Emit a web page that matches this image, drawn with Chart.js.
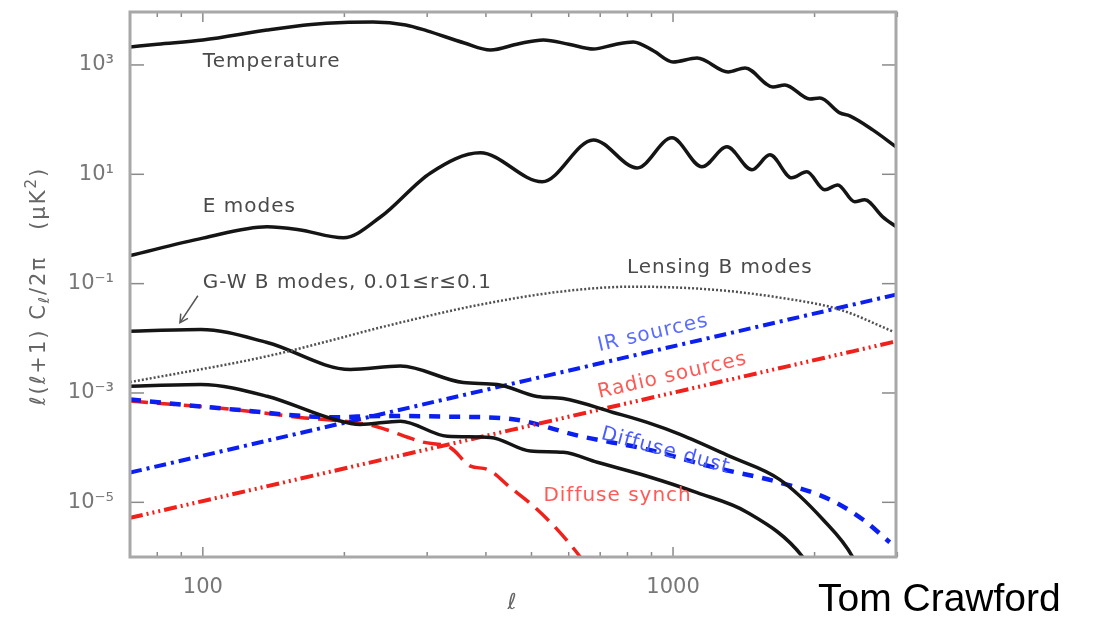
<!DOCTYPE html>
<html>
<head>
<meta charset="utf-8">
<script src="https://cdn.jsdelivr.net/npm/chart.js@4.4.1/dist/chart.umd.min.js"></script>
<style>
  html, body { margin: 0; padding: 0; background: #fff; }
  #wrap { position: relative; width: 1094px; height: 621px; }
  #credit { position: absolute; left: 818px; top: 576px; font: 39px "Liberation Sans", Arial, sans-serif; color: #000; }
</style>
</head>
<body>
<div id="wrap">
  <canvas id="chart" width="1094" height="621"></canvas>
  <div id="credit">Tom Crawford</div>
</div>
<script>
// multipole and D_l values (uK^2)
const ttL = [70, 80, 100, 137, 170, 199, 230, 270, 300, 360, 409, 470, 530, 600, 677, 750, 823, 910, 1000, 1125, 1310, 1423, 1631, 1729, 1954, 2052, 2263, 2376, 2659, 2980];
const ttD = [2130, 2400, 2860, 4350, 5500, 6000, 6100, 5400, 4200, 2520, 1880, 2450, 2860, 2400, 1960, 2350, 2630, 1800, 1135, 1340, 745, 880, 396, 431, 239, 249, 133, 117, 65, 31.8];

const eeL = [70, 100, 137, 160, 199, 239, 305, 389, 527, 677, 839, 995, 1152, 1302, 1472, 1607, 1789, 1925, 2102, 2240, 2434, 2556, 2792, 2980];
const eeD = [0.325, 0.68, 1.1, 0.97, 0.69, 1.67, 10.6, 24.7, 7.3, 42.6, 13.1, 46.4, 13.7, 31.8, 12.1, 22.7, 8.6, 11.1, 5.2, 6.4, 3.15, 3.42, 1.67, 1.1];

const gwHiL = [70, 99, 137, 206, 263, 358, 423, 514, 584, 746, 881, 1035, 1322, 1687, 2081, 2410, 2700];
const gwHiD = [0.01345, 0.0145, 0.00836, 0.0027, 0.0031, 0.00155, 0.00143, 8.6e-4, 7.9e-4, 4.4e-4, 2.9e-4, 1.75e-4, 6.9e-5, 2.6e-5, 4.9e-6, 1e-6, 1e-7];

const gwLoL = [70, 99, 137, 190, 216, 263, 331, 409, 497, 584, 690, 881, 1125, 1436, 1888, 2200];
const gwLoD = [1.33e-3, 1.43e-3, 8.7e-4, 3.3e-4, 2.66e-4, 3.05e-4, 1.62e-4, 1.54e-4, 8.65e-5, 8.2e-5, 5.4e-5, 3e-5, 1.5e-5, 6.6e-6, 1e-6, 1e-7];

const lensL = [70, 137, 263, 389, 584, 823, 1216, 1687, 2263, 2930];
const lensD = [1.58e-3, 4.7e-3, 0.0194, 0.0413, 0.0724, 0.088, 0.0776, 0.0555, 0.0335, 0.01345];

const irL = [70, 430, 2980];
const irD = [3.5e-5, 1.32e-3, 0.063];

const radioL = [70, 430, 2980];
const radioD = [5.2e-6, 1.9e-4, 8.8e-3];

const dustL = [70, 116, 190, 239, 331, 457, 635, 881, 1216, 1687, 2154, 2529, 2890];
const dustD = [7.6e-4, 5e-4, 3.6e-4, 3.8e-4, 3.7e-4, 3.3e-4, 1.62e-4, 9.3e-5, 4.4e-5, 2.3e-5, 1.13e-5, 4.9e-6, 1.86e-6];

const synchL = [70, 116, 161, 224, 239, 294, 336, 371, 403, 451, 505, 567, 635, 700];
const synchD = [7.1e-4, 5e-4, 3.57e-4, 2.66e-4, 2.3e-4, 1.26e-4, 1e-4, 4.6e-5, 4e-5, 1.86e-5, 8.5e-6, 3.2e-6, 1e-6, 3e-7];

const xLabelTicks = [100, 1000];
const xMinorTicks = [80, 90, 200, 300, 400, 500, 600, 700, 800, 900, 2000, 3000];
const yLabelTicks = [1e3, 1e1, 1e-1, 1e-3, 1e-5];
const yLabelText = {'1000': '10³', '10': '10¹', '0.1': '10⁻¹', '0.001': '10⁻³', '0.00001': '10⁻⁵'};

function pts(ls, ds) { return ls.map((l, i) => ({x: l, y: ds[i]})); }

function series(ls, ds, color, width, dash) {
  return {
    data: pts(ls, ds),
    borderColor: color,
    borderWidth: width,
    borderDash: dash,
    pointRadius: 0,
    fill: false,
    cubicInterpolationMode: 'monotone'
  };
}

const FONT = '"DejaVu Sans", sans-serif';

// axis frame and inward tick marks
const framePlugin = {
  id: 'frame',
  afterDatasetsDraw(chart) {
    const {ctx, chartArea: a, scales: {x, y}} = chart;
    ctx.save();
    ctx.strokeStyle = '#8a8a8a';
    ctx.lineWidth = 1.5;
    const seg = (x1, y1, x2, y2) => { ctx.beginPath(); ctx.moveTo(x1, y1); ctx.lineTo(x2, y2); ctx.stroke(); };
    xMinorTicks.forEach(v => {
      const px = x.getPixelForValue(v);
      seg(px, a.bottom, px, a.bottom - 5);
      seg(px, a.top, px, a.top + 5);
    });
    xLabelTicks.forEach(v => {
      const px = x.getPixelForValue(v);
      seg(px, a.bottom, px, a.bottom - 10);
      seg(px, a.top, px, a.top + 10);
    });
    yLabelTicks.forEach(v => {
      const py = y.getPixelForValue(v);
      seg(a.left, py, a.left + 14, py);
      seg(a.right, py, a.right - 14, py);
    });
    ctx.strokeStyle = '#a8a8a8';
    ctx.lineWidth = 3;
    ctx.strokeRect(a.left, a.top, a.right - a.left, a.bottom - a.top);
    ctx.restore();
  }
};

// curve names, arrow and axis titles
const notes = [
  {text: 'Temperature', l: 100, v: 1135, color: '#4a4a4a', angle: 0},
  {text: 'E modes', l: 100, v: 2.55, color: '#4a4a4a', angle: 0},
  {text: 'G-W B modes, 0.01≤r≤0.1', l: 100, v: 0.105, color: '#4a4a4a', angle: 0},
  {text: 'Lensing B modes', l: 798, v: 0.196, color: '#4a4a4a', angle: 0},
  {text: 'IR sources', l: 693, v: 7.2e-3, color: '#5a6cff', angle: -13},
  {text: 'Radio sources', l: 693, v: 1.0e-3, color: '#ff5a55', angle: -13},
  {text: 'Diffuse dust', l: 705, v: 1.8e-4, color: '#4a5cff', angle: 15},
  {text: 'Diffuse synch', l: 530, v: 1.29e-5, color: '#ff5a55', angle: 0}
];

const notesPlugin = {
  id: 'notes',
  afterDatasetsDraw(chart) {
    const {ctx, chartArea: a, scales: {x, y}} = chart;
    ctx.save();
    ctx.font = '20px ' + FONT;
    ctx.letterSpacing = '1px';
    ctx.textBaseline = 'middle';
    ctx.textAlign = 'left';
    notes.forEach(n => {
      ctx.save();
      ctx.translate(x.getPixelForValue(n.l), y.getPixelForValue(n.v));
      ctx.rotate(n.angle * Math.PI / 180);
      ctx.fillStyle = n.color;
      ctx.fillText(n.text, 0, 0);
      ctx.restore();
    });

    // arrow to the G-W curve
    const x1 = x.getPixelForValue(97.6), y1 = y.getPixelForValue(0.06);
    const x2 = x.getPixelForValue(89.4), y2 = y.getPixelForValue(0.0194);
    ctx.strokeStyle = '#555';
    ctx.lineWidth = 1.5;
    ctx.beginPath(); ctx.moveTo(x1, y1); ctx.lineTo(x2, y2); ctx.stroke();
    const ang = Math.atan2(y2 - y1, x2 - x1);
    ctx.beginPath();
    ctx.moveTo(x2 - 9 * Math.cos(ang - 0.5), y2 - 9 * Math.sin(ang - 0.5));
    ctx.lineTo(x2, y2);
    ctx.lineTo(x2 - 9 * Math.cos(ang + 0.5), y2 - 9 * Math.sin(ang + 0.5));
    ctx.stroke();

    // x title
    ctx.fillStyle = '#666';
    ctx.letterSpacing = '0px';
    ctx.font = 'italic 22px ' + FONT;
    ctx.textAlign = 'center';
    ctx.fillText('ℓ', (a.left + a.right) / 2 - 1, 603);

    // y title, rotated
    ctx.translate(40, 286);
    ctx.rotate(-Math.PI / 2);
    ctx.letterSpacing = '2px';
    const big = '21px ' + FONT, small = '15px ' + FONT;
    const parts = [
      ['ℓ(ℓ+1) C', big, 0],
      ['ℓ', small, 5],
      ['/2π   (μK', big, 0],
      ['2', small, -8],
      [')', big, 0]
    ];
    let total = 0;
    parts.forEach(p => { ctx.font = p[1]; total += ctx.measureText(p[0]).width; });
    let cx = -total / 2;
    ctx.textAlign = 'left';
    parts.forEach(p => {
      ctx.font = p[1];
      ctx.fillText(p[0], cx, p[2]);
      cx += ctx.measureText(p[0]).width;
    });
    ctx.restore();
  }
};

new Chart(document.getElementById('chart').getContext('2d'), {
  type: 'line',
  data: {
    datasets: [
      series(ttL, ttD, '#151515', 3.5, []),
      series(eeL, eeD, '#151515', 3.5, []),
      series(lensL, lensD, '#505050', 2.5, [2, 2]),
      series(gwHiL, gwHiD, '#151515', 3.5, []),
      series(gwLoL, gwLoD, '#151515', 3.5, []),
      series(irL, irD, '#0a1ff0', 4, [12, 5, 3, 5]),
      series(radioL, radioD, '#f0201a', 4, [13, 4, 2, 4, 2, 4, 2, 4]),
      series(dustL, dustD, '#0a1ff0', 4.5, [11, 9]),
      series(synchL, synchD, '#f0201a', 3.5, [18, 9])
    ]
  },
  options: {
    responsive: false,
    animation: false,
    layout: {padding: {top: 12, right: 198, left: 0, bottom: 0}},
    plugins: {legend: {display: false}, tooltip: {enabled: false}},
    scales: {
      x: {
        type: 'logarithmic',
        min: 70,
        max: 2980,
        grid: {display: false, drawTicks: false},
        border: {display: false},
        afterBuildTicks: s => { s.ticks = xLabelTicks.map(v => ({value: v})); },
        afterFit: s => { s.height = 64; s.paddingLeft = 0; s.paddingRight = 0; },
        ticks: {
          autoSkip: false,
          maxRotation: 0,
          padding: 18,
          color: '#777',
          font: {family: FONT, size: 21},
          callback: v => String(v)
        }
      },
      y: {
        type: 'logarithmic',
        min: 1e-6,
        max: 9300,
        grid: {display: false, drawTicks: false},
        border: {display: false},
        afterBuildTicks: s => { s.ticks = yLabelTicks.map(v => ({value: v})); },
        afterFit: s => { s.width = 130; s.paddingTop = 0; s.paddingBottom = 0; },
        ticks: {
          autoSkip: false,
          padding: 16,
          color: '#777',
          font: {family: FONT, size: 21},
          callback: v => yLabelText[String(v)] || ''
        }
      }
    }
  },
  plugins: [framePlugin, notesPlugin]
});
</script>
</body>
</html>
